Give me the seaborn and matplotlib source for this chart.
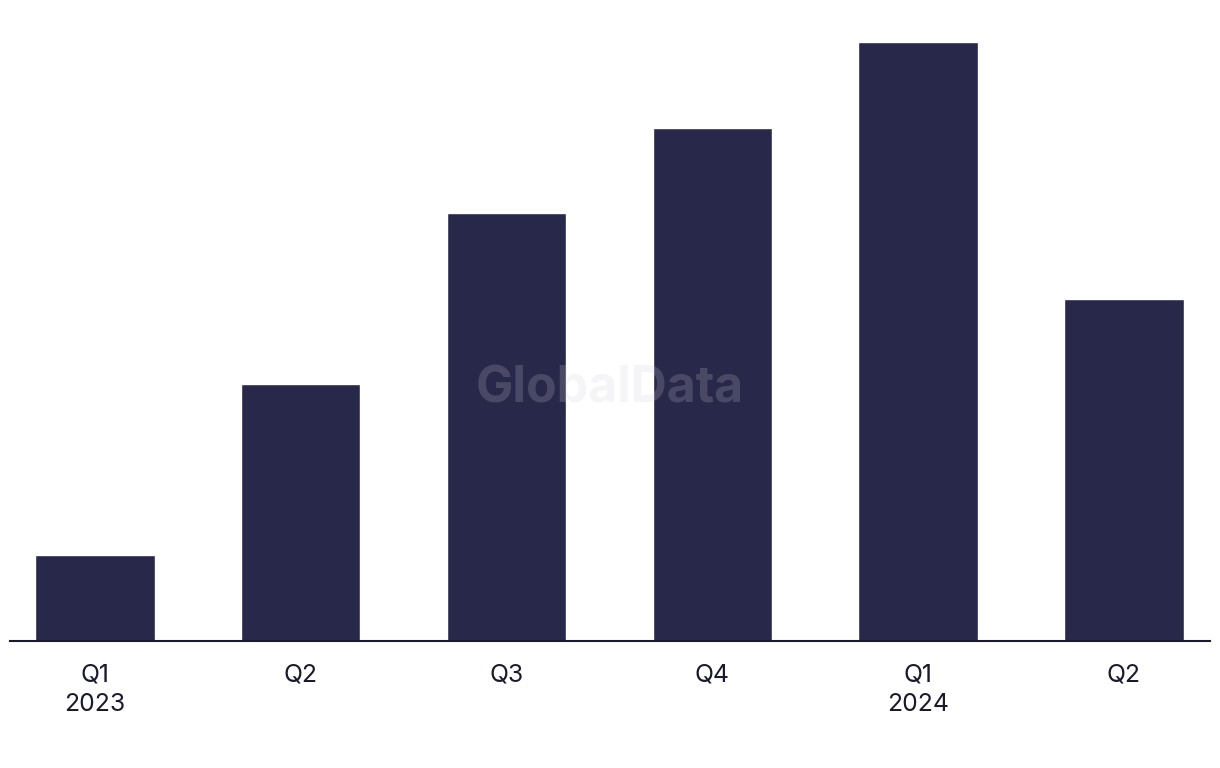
import matplotlib
matplotlib.use("Agg")
import matplotlib.pyplot as plt
import pandas as pd
import seaborn as sns

# Quarterly values (units, no axis shown)
quarters = ["Q1\n2023", "Q2", "Q3", "Q4", "Q1\n2024", "Q2"]
values = [1, 3, 5, 6, 7, 4]

df = pd.DataFrame({"quarter": range(len(quarters)), "value": values})

sns.set_style("white")
plt.rcParams["font.family"] = ["Inter", "DejaVu Sans"]

fig = plt.figure(figsize=(12.2, 7.68), dpi=100)
ax = fig.add_axes([10 / 1220, 127 / 768, 1200 / 1220, 599 / 768])

sns.barplot(data=df, x="quarter", y="value", color="#28284a", saturation=1,
            width=0.58, ax=ax)

ax.set_xlim(-0.413, 5.418)
ax.set_ylim(0, 7)
ax.set_xticks(range(len(quarters)))
ax.set_xticklabels(quarters, fontsize=17.8, color="#1a1a2e", linespacing=1.35)
ax.tick_params(axis="x", length=0, pad=16.5)
ax.set_yticks([])
ax.set_xlabel("")
ax.set_ylabel("")

for side in ["top", "right", "left"]:
    ax.spines[side].set_visible(False)
ax.spines["bottom"].set_color("#1a1a2e")
ax.spines["bottom"].set_linewidth(1.5)

fig.text(610 / 1220, 1 - 389 / 768, "GlobalData", ha="center", va="center",
         fontsize=36, fontweight="bold", color="#d0d0d8", alpha=0.2)

fig.savefig("out.png", dpi=100, facecolor="white")
